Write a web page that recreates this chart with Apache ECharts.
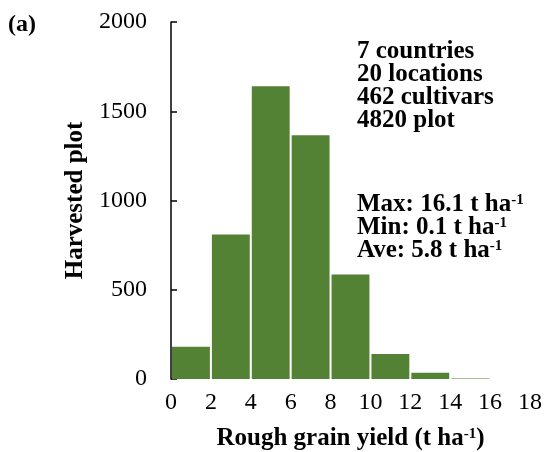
<!DOCTYPE html>
<html>
<head>
<meta charset="utf-8">
<script src="https://cdn.jsdelivr.net/npm/echarts@6/dist/echarts.min.js"></script>
<style>
  html, body { margin: 0; padding: 0; background: #fff; }
  #chart { width: 545px; height: 452px; }
</style>
</head>
<body>
<div id="chart"></div>
<script>
// Histogram bins of rough grain yield (t ha-1) and plot counts per bin
const binStart = [0, 2, 4, 6, 8, 10, 12, 14];
const binEnd   = [2, 4, 6, 8, 10, 12, 14, 16];
const plotCount = [180, 810, 1640, 1365, 585, 140, 35, 3];

const xTicks = [0, 2, 4, 6, 8, 10, 12, 14, 16, 18];
const yTicks = [0, 500, 1000, 1500, 2000];

const summaryLines = ['7 countries', '20 locations', '462 cultivars', '4820 plot'];
const statLines = [
  ['Max: 16.1 t ha', '-1'],
  ['Min: 0.1 t ha', '-1'],
  ['Ave: 5.8 t ha', '-1']
];

const FONT = '"Liberation Serif", "Times New Roman", serif';
const BAR = '#548235';

const chart = echarts.init(document.getElementById('chart'), null, { renderer: 'canvas' });

const rich = {
  b: { fontFamily: FONT, fontWeight: 'bold', fontSize: 25, lineHeight: 23, color: '#000' },
  sup: { fontFamily: FONT, fontWeight: 'bold', fontSize: 15, lineHeight: 23, verticalAlign: 'top', color: '#000' }
};

const statText = statLines.map(l => '{b|' + l[0] + '}{sup|' + l[1] + '}').join('\n');

chart.setOption({
  animation: false,
  grid: { left: 171, right: 15, top: 22, bottom: 73, containLabel: false, outerBoundsMode: 'none' },
  xAxis: {
    type: 'value',
    min: xTicks[0],
    max: xTicks[xTicks.length - 1],
    interval: 2,
    axisLine: { show: false },
    axisTick: { show: false },
    splitLine: { show: false },
    axisLabel: { fontFamily: FONT, fontSize: 24, color: '#000', margin: 12 },
    name: '{b|Rough grain yield (t ha}{sup|-1}{b|)}',
    nameLocation: 'middle',
    nameGap: 48,
    nameTextStyle: { rich: rich }
  },
  yAxis: {
    type: 'value',
    min: yTicks[0],
    max: yTicks[yTicks.length - 1],
    interval: 500,
    axisLine: { show: true, lineStyle: { color: '#000', width: 1.5 } },
    axisTick: { show: true, inside: true, length: 6, lineStyle: { color: '#000', width: 1.5 } },
    splitLine: { show: false },
    axisLabel: {
      fontFamily: FONT, fontSize: 24, color: '#000', margin: 24,
      formatter: v => String(v)
    },
    name: 'Harvested plot',
    nameLocation: 'middle',
    nameGap: 83,
    nameRotate: 90,
    nameTextStyle: { fontFamily: FONT, fontWeight: 'bold', fontSize: 25, color: '#000' }
  },
  series: [{
    type: 'custom',
    data: binStart.map((s, i) => [s, binEnd[i], plotCount[i]]),
    encode: { x: [0, 1], y: 2 },
    renderItem: function (params, api) {
      const p0 = api.coord([api.value(0), api.value(2)]);
      const p1 = api.coord([api.value(1), 0]);
      return {
        type: 'rect',
        shape: { x: p0[0] + 1, y: p0[1], width: p1[0] - p0[0] - 2, height: p1[1] - p0[1] },
        style: { fill: BAR }
      };
    },
    z: 1
  }],
  graphic: [
    {
      type: 'text', left: 8, top: 13,
      style: { text: '(a)', font: 'bold 24px ' + FONT, fill: '#000' }
    },
    {
      type: 'text', left: 357, top: 39,
      style: { text: summaryLines.join('\n'), font: 'bold 25px ' + FONT, lineHeight: 23, fill: '#000' }
    },
    {
      type: 'text', left: 357, top: 192,
      style: { text: statText, rich: rich }
    }
  ]
});
</script>
</body>
</html>
